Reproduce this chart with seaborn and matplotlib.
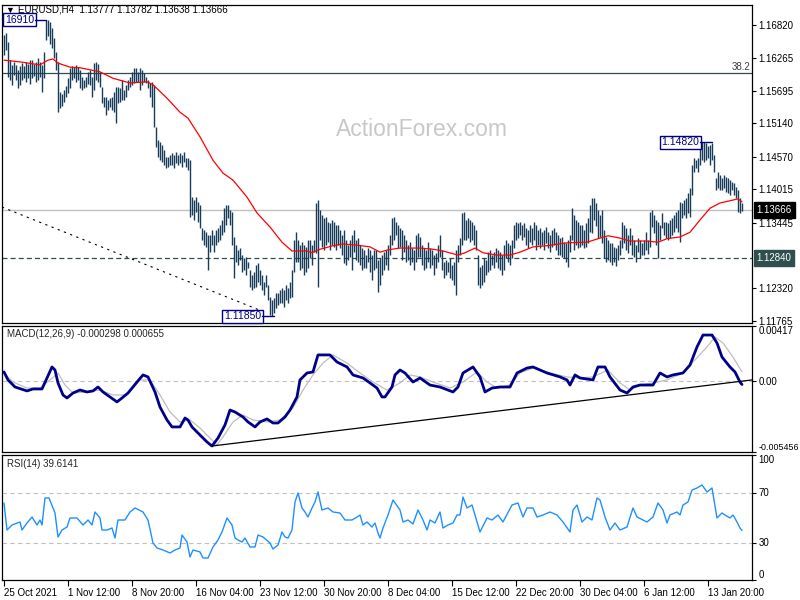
import matplotlib
matplotlib.use("Agg")
import matplotlib.pyplot as plt
import matplotlib.transforms as mtransforms
import pandas as pd
import seaborn as sns

# ---------------- data ----------------
title = "EURUSD,H4  1.13777 1.13782 1.13638 1.13666"

bar_high = [
    1.1665, 1.1668, 1.1653, 1.1622, 1.1614, 1.1619, 1.1614, 1.1605, 1.1612, 1.1617,
    1.1612, 1.1619, 1.1615, 1.1622, 1.1622, 1.1615, 1.1619, 1.1626, 1.1619, 1.1614,
    1.1636, 1.1691, 1.1691, 1.1687, 1.1677, 1.1660, 1.1636, 1.1619, 1.1568, 1.1564,
    1.1571, 1.1578, 1.1591, 1.1609, 1.1612, 1.1610, 1.1614, 1.1610, 1.1605, 1.1593,
    1.1588, 1.1593, 1.1602, 1.1605, 1.1593, 1.1617, 1.1619, 1.1615, 1.1602, 1.1576,
    1.1559, 1.1559, 1.1554, 1.1557, 1.1559, 1.1568, 1.1576, 1.1576, 1.1574, 1.1588,
    1.1571, 1.1580, 1.1588, 1.1593, 1.1602, 1.1609, 1.1609, 1.1602, 1.1609, 1.1605,
    1.1600, 1.1593, 1.1588, 1.1583, 1.1585, 1.1580, 1.1508, 1.1486, 1.1482, 1.1477,
    1.1469, 1.1457, 1.1457, 1.1460, 1.1463, 1.1460, 1.1465, 1.1460, 1.1463, 1.1460,
    1.1465, 1.1455, 1.1455, 1.1451, 1.1388, 1.1383, 1.1388, 1.1380, 1.1375, 1.1335,
    1.1332, 1.1328, 1.1323, 1.1323, 1.1332, 1.1323, 1.1332, 1.1335, 1.1340, 1.1349,
    1.1369, 1.1375, 1.1375, 1.1366, 1.1363, 1.1320, 1.1306, 1.1298, 1.1301, 1.1289,
    1.1284, 1.1286, 1.1277, 1.1264, 1.1255, 1.1260, 1.1272, 1.1276, 1.1264, 1.1255,
    1.1243, 1.1255, 1.1238, 1.1217, 1.1212, 1.1216, 1.1224, 1.1224, 1.1229, 1.1233,
    1.1229, 1.1238, 1.1233, 1.1243, 1.1264, 1.1315, 1.1328, 1.1315, 1.1306, 1.1311,
    1.1306, 1.1303, 1.1315, 1.1315, 1.1306, 1.1315, 1.1378, 1.1383, 1.1366, 1.1357,
    1.1352, 1.1354, 1.1346, 1.1344, 1.1349, 1.1346, 1.1340, 1.1340, 1.1332, 1.1323,
    1.1332, 1.1315, 1.1306, 1.1315, 1.1323, 1.1332, 1.1315, 1.1318, 1.1306, 1.1301,
    1.1298, 1.1289, 1.1301, 1.1298, 1.1289, 1.1298, 1.1298, 1.1281, 1.1284, 1.1289,
    1.1294, 1.1298, 1.1306, 1.1323, 1.1352, 1.1354, 1.1346, 1.1340, 1.1335, 1.1332,
    1.1323, 1.1315, 1.1306, 1.1311, 1.1301, 1.1298, 1.1323, 1.1327, 1.1320, 1.1306,
    1.1301, 1.1298, 1.1311, 1.1301, 1.1298, 1.1289, 1.1293, 1.1306, 1.1323, 1.1298,
    1.1277, 1.1281, 1.1277, 1.1284, 1.1272, 1.1277, 1.1298, 1.1306, 1.1318, 1.1361,
    1.1363, 1.1349, 1.1352, 1.1349, 1.1346, 1.1340, 1.1332, 1.1289, 1.1269, 1.1272,
    1.1284, 1.1281, 1.1294, 1.1298, 1.1289, 1.1294, 1.1301, 1.1298, 1.1294, 1.1289,
    1.1306, 1.1315, 1.1310, 1.1306, 1.1315, 1.1340, 1.1346, 1.1344, 1.1346, 1.1340,
    1.1344, 1.1335, 1.1332, 1.1340, 1.1335, 1.1346, 1.1340, 1.1332, 1.1335, 1.1328,
    1.1332, 1.1337, 1.1328, 1.1323, 1.1332, 1.1335, 1.1328, 1.1323, 1.1318, 1.1320,
    1.1311, 1.1310, 1.1315, 1.1323, 1.1369, 1.1357, 1.1349, 1.1346, 1.1340, 1.1340,
    1.1332, 1.1344, 1.1352, 1.1375, 1.1387, 1.1387, 1.1378, 1.1366, 1.1357, 1.1366,
    1.1332, 1.1320, 1.1315, 1.1310, 1.1310, 1.1303, 1.1301, 1.1306, 1.1315, 1.1346,
    1.1340, 1.1335, 1.1323, 1.1335, 1.1323, 1.1315, 1.1306, 1.1318, 1.1315, 1.1310,
    1.1315, 1.1328, 1.1315, 1.1363, 1.1366, 1.1357, 1.1349, 1.1346, 1.1340, 1.1361,
    1.1346, 1.1346, 1.1344, 1.1349, 1.1352, 1.1357, 1.1363, 1.1366, 1.1380, 1.1378,
    1.1383, 1.1387, 1.1395, 1.1404, 1.1443, 1.1455, 1.1451, 1.1455, 1.1482, 1.1482,
    1.1482, 1.1480, 1.1475, 1.1477, 1.1480, 1.1460, 1.1421, 1.1431, 1.1426, 1.1421,
    1.1426, 1.1422, 1.1421, 1.1417, 1.1414, 1.1412, 1.1405, 1.1400, 1.1387, 1.1378,
]
bar_low = [
    1.1631, 1.1639, 1.1593, 1.1588, 1.1580, 1.1597, 1.1588, 1.1574, 1.1580, 1.1588,
    1.1591, 1.1585, 1.1591, 1.1581, 1.1591, 1.1595, 1.1585, 1.1588, 1.1593, 1.1568,
    1.1591, 1.1656, 1.1663, 1.1650, 1.1643, 1.1626, 1.1605, 1.1533, 1.1540, 1.1544,
    1.1550, 1.1559, 1.1566, 1.1574, 1.1588, 1.1591, 1.1585, 1.1588, 1.1574, 1.1571,
    1.1574, 1.1576, 1.1581, 1.1580, 1.1559, 1.1571, 1.1588, 1.1585, 1.1576, 1.1549,
    1.1542, 1.1528, 1.1537, 1.1542, 1.1537, 1.1533, 1.1515, 1.1549, 1.1550, 1.1554,
    1.1554, 1.1559, 1.1571, 1.1576, 1.1580, 1.1583, 1.1585, 1.1585, 1.1571, 1.1580,
    1.1585, 1.1583, 1.1574, 1.1559, 1.1542, 1.1508, 1.1474, 1.1457, 1.1451, 1.1448,
    1.1443, 1.1438, 1.1440, 1.1443, 1.1443, 1.1438, 1.1446, 1.1443, 1.1446, 1.1440,
    1.1448, 1.1440, 1.1434, 1.1354, 1.1357, 1.1349, 1.1363, 1.1346, 1.1335, 1.1315,
    1.1306, 1.1303, 1.1264, 1.1294, 1.1306, 1.1294, 1.1306, 1.1311, 1.1315, 1.1323,
    1.1328, 1.1340, 1.1352, 1.1340, 1.1306, 1.1250, 1.1277, 1.1272, 1.1281, 1.1260,
    1.1264, 1.1255, 1.1267, 1.1235, 1.1229, 1.1233, 1.1235, 1.1243, 1.1238, 1.1229,
    1.1221, 1.1235, 1.1212, 1.1187, 1.1185, 1.1190, 1.1199, 1.1204, 1.1207, 1.1207,
    1.1200, 1.1212, 1.1207, 1.1216, 1.1217, 1.1260, 1.1277, 1.1277, 1.1264, 1.1267,
    1.1255, 1.1260, 1.1267, 1.1284, 1.1272, 1.1294, 1.1293, 1.1235, 1.1315, 1.1303,
    1.1298, 1.1306, 1.1311, 1.1298, 1.1306, 1.1303, 1.1298, 1.1306, 1.1301, 1.1289,
    1.1276, 1.1272, 1.1281, 1.1286, 1.1264, 1.1294, 1.1281, 1.1277, 1.1272, 1.1264,
    1.1267, 1.1267, 1.1277, 1.1260, 1.1246, 1.1264, 1.1267, 1.1226, 1.1238, 1.1255,
    1.1264, 1.1272, 1.1264, 1.1289, 1.1306, 1.1315, 1.1323, 1.1301, 1.1303, 1.1281,
    1.1294, 1.1277, 1.1281, 1.1272, 1.1277, 1.1264, 1.1277, 1.1286, 1.1286, 1.1272,
    1.1264, 1.1267, 1.1277, 1.1267, 1.1272, 1.1255, 1.1267, 1.1277, 1.1286, 1.1264,
    1.1250, 1.1255, 1.1260, 1.1250, 1.1246, 1.1238, 1.1221, 1.1277, 1.1289, 1.1306,
    1.1315, 1.1315, 1.1318, 1.1311, 1.1315, 1.1306, 1.1298, 1.1238, 1.1233, 1.1238,
    1.1243, 1.1255, 1.1260, 1.1264, 1.1272, 1.1267, 1.1277, 1.1267, 1.1264, 1.1255,
    1.1264, 1.1284, 1.1277, 1.1272, 1.1284, 1.1301, 1.1315, 1.1318, 1.1323, 1.1315,
    1.1320, 1.1306, 1.1301, 1.1311, 1.1306, 1.1315, 1.1298, 1.1306, 1.1301, 1.1306,
    1.1298, 1.1310, 1.1301, 1.1294, 1.1303, 1.1306, 1.1298, 1.1289, 1.1289, 1.1286,
    1.1284, 1.1277, 1.1269, 1.1294, 1.1315, 1.1298, 1.1306, 1.1301, 1.1303, 1.1306,
    1.1301, 1.1303, 1.1310, 1.1328, 1.1327, 1.1349, 1.1339, 1.1318, 1.1320, 1.1310,
    1.1284, 1.1277, 1.1281, 1.1277, 1.1272, 1.1277, 1.1270, 1.1281, 1.1289, 1.1301,
    1.1310, 1.1298, 1.1293, 1.1306, 1.1289, 1.1286, 1.1277, 1.1294, 1.1284, 1.1289,
    1.1289, 1.1298, 1.1291, 1.1303, 1.1337, 1.1327, 1.1306, 1.1284, 1.1315, 1.1335,
    1.1323, 1.1318, 1.1315, 1.1318, 1.1323, 1.1328, 1.1335, 1.1328, 1.1311, 1.1352,
    1.1357, 1.1352, 1.1361, 1.1354, 1.1392, 1.1431, 1.1438, 1.1431, 1.1443, 1.1451,
    1.1448, 1.1451, 1.1455, 1.1443, 1.1451, 1.1431, 1.1400, 1.1404, 1.1400, 1.1400,
    1.1404, 1.1397, 1.1395, 1.1392, 1.1400, 1.1392, 1.1387, 1.1363, 1.1361, 1.1364,
]

# moving average (red), sampled along the bars
ma_idx = [0, 8, 18, 22, 24.5, 27, 33, 38, 48, 54.5, 63, 71.5, 74.5, 81.5, 88, 92, 98,
          104.5, 109.5, 114.5, 121.5, 126.5, 133, 139, 144, 151.5, 154, 158, 164.5,
          169.5, 176.5, 183, 188, 192, 198, 208, 214.5, 219.5, 227, 230.5, 235.5, 239.5,
          246.5, 253, 258, 264.5, 271.5, 281.5, 291.5, 298, 302, 308, 313, 321.5, 327,
          331.5, 338, 343, 348, 353, 358, 364.5, 367, 369]
ma_val = [1.1622, 1.1619, 1.1614, 1.1622, 1.1624, 1.1617, 1.1610, 1.1609, 1.1602, 1.1591,
          1.1583, 1.1585, 1.1580, 1.1557, 1.1533, 1.1523, 1.1491, 1.1451, 1.1429, 1.1417,
          1.1388, 1.1361, 1.1337, 1.1311, 1.1296, 1.1296, 1.1293, 1.1299, 1.1305, 1.1308,
          1.1306, 1.1303, 1.1294, 1.1298, 1.1301, 1.1301, 1.1299, 1.1296, 1.1289, 1.1293,
          1.1301, 1.1293, 1.1289, 1.1289, 1.1294, 1.1303, 1.1305, 1.1310, 1.1311, 1.1318,
          1.1322, 1.1318, 1.1313, 1.1313, 1.1311, 1.1317, 1.1320, 1.1328, 1.1349, 1.1369,
          1.1378, 1.1383, 1.1385, 1.1380]

price_ticks = [1.16820, 1.16265, 1.15695, 1.15140, 1.14570, 1.14015, 1.13445, 1.12320, 1.11765]
last_price = 1.13666
support = 1.12840
fibo_382 = 1.1600
peak_hi, peak_lo, recent_hi = 1.16910, 1.11850, 1.14820
trend_idx = [-1, 130]
trend_val = [1.1371, 1.1192]

macd_idx = [0, 2, 5.5, 11.5, 14.5, 19, 21.5, 24, 25.5, 27,
            29.5, 31.5, 34.5, 38, 41.5, 44.5, 47, 49.5, 53, 56.5,
            59, 62, 66.5, 69.5, 72, 75.5, 78, 81.5, 84, 88,
            90.5, 92, 94, 98, 101.5, 104, 107, 110.5, 113, 115.5,
            119.5, 122, 125.5, 128, 131.5, 134.5, 137, 140.5, 143, 146.5,
            148, 151.5, 154.5, 157, 163, 166.5, 171.5, 174.5, 179.5, 183,
            186.5, 189, 190.5, 194, 195.5, 198, 200.5, 204.5, 208, 213,
            218, 224.5, 227, 229.5, 234.5, 238, 240.5, 244, 248, 253,
            256.5, 261.5, 264.5, 271.5, 278, 281.5, 283, 285.5, 288, 294.5,
            297, 300.5, 303, 308, 311.5, 314.5, 318, 324.5, 328, 331.5,
            334.5, 339.5, 343, 346.5, 349.5, 354, 356.5, 359, 363, 365.5,
            368, 369]
macd_val = [0.00066, 0.00005, -0.00049, -0.00079, -0.00064, -0.00064, 0.00020, 0.00104, 0.00081, -0.00018,
            -0.00110, -0.00133, -0.00095, -0.00072, -0.00087, -0.00079, -0.00049, -0.00087, -0.00125, -0.00163,
            -0.00133, -0.00095, -0.00011, 0.00043, 0.00028, -0.00087, -0.00202, -0.00301, -0.00354, -0.00354,
            -0.00286, -0.00301, -0.00354, -0.00416, -0.00469, -0.00500, -0.00439, -0.00339, -0.00225, -0.00240,
            -0.00278, -0.00316, -0.00354, -0.00316, -0.00293, -0.00324, -0.00324, -0.00278, -0.00225, -0.00125,
            0.00005, 0.00058, 0.00066, 0.00196, 0.00196, 0.00142, 0.00104, 0.00043, 0.00020, -0.00018,
            -0.00057, -0.00125, -0.00125, -0.00049, 0.00043, 0.00081, 0.00058, -0.00011, 0.00020, -0.00034,
            -0.00049, -0.00087, -0.00049, 0.00058, 0.00104, 0.00028, -0.00087, -0.00057, -0.00049, -0.00049,
            0.00058, 0.00096, 0.00104, 0.00058, 0.00028, 0.00005, -0.00034, 0.00043, 0.00020, 0.00005,
            0.00104, 0.00104, 0.00028, -0.00072, -0.00095, -0.00049, -0.00034, -0.00034, 0.00058, 0.00028,
            0.00043, 0.00058, 0.00119, 0.00257, 0.00348, 0.00348, 0.00287, 0.00180, 0.00104, 0.00066,
            -0.00011, -0.00030]
sig_idx = [0, 4.5, 11.5, 18, 23, 27, 30.5, 34.5, 41.5, 48,
           54.5, 61.5, 68, 73, 78, 83, 88, 93, 98, 103,
           106.5, 109.5, 114.5, 119.5, 124.5, 131.5, 138, 144.5, 149.5, 154.5,
           159.5, 164.5, 171.5, 178, 184.5, 191.5, 198, 203, 208, 214.5,
           223, 229.5, 236.5, 241.5, 246.5, 253, 258, 264.5, 273, 281.5,
           288, 294.5, 302, 308, 313, 318, 324.5, 331.5, 339.5, 344.5,
           351.5, 355.5, 359.5, 364.5, 369]
sig_val = [0.00058, -0.00011, -0.00057, -0.00057, 0.00005, 0.00058, -0.00034, -0.00095, -0.00087, -0.00072,
           -0.00110, -0.00110, 0.00005, 0.00005, -0.00110, -0.00240, -0.00316, -0.00301, -0.00362, -0.00439,
           -0.00492, -0.00431, -0.00316, -0.00263, -0.00301, -0.00316, -0.00301, -0.00209, -0.00072, 0.00043,
           0.00134, 0.00196, 0.00134, 0.00058, -0.00011, -0.00072, -0.00018, 0.00043, 0.00028, -0.00011,
           -0.00057, -0.00011, 0.00066, -0.00011, -0.00057, -0.00034, 0.00058, 0.00096, 0.00058, 0.00028,
           0.00020, 0.00028, 0.00081, -0.00018, -0.00072, -0.00034, -0.00018, 0.00005, 0.00058, 0.00142,
           0.00257, 0.00333, 0.00287, 0.00180, 0.00066]
macd_trend_idx = [104, 374]
macd_trend_val = [-0.00500, 0.00005]
macd_ticks = [0.00417, 0.0, -0.005456]
macd_labels = ["0.00417", "0.00", "-0.005456"]

rsi_idx = [0, 1.5, 4, 8, 9, 11.5, 14, 16.5, 18, 19,
           20.5, 22.5, 25.5, 27, 29, 31.5, 33, 36.5, 39.5, 42,
           44, 45.5, 48, 49, 51.5, 54, 55.5, 57, 60.5, 63,
           65.5, 69.5, 72, 74.5, 76.5, 79.5, 83, 85.5, 88, 89,
           91.5, 93, 94.5, 98, 99.5, 102, 104.5, 107, 109, 111.5,
           114, 115.5, 117, 119, 120.5, 123, 125.5, 127, 129.5, 133,
           134.5, 137, 139, 140.5, 142, 144, 145.5, 147, 149, 150.5,
           152, 154, 155.5, 157, 159, 162, 164.5, 168, 170.5, 174,
           176.5, 178, 179.5, 181.5, 184, 185.5, 187, 188, 189.5, 192,
           194.5, 198, 199.5, 202, 204.5, 207, 209.5, 211.5, 213, 215.5,
           218, 219.5, 222, 224.5, 226.5, 228, 229.5, 231.5, 234, 235.5,
           238, 241.5, 244, 247, 249.5, 254, 257, 259.5, 261.5, 264.5,
           266.5, 269.5, 273, 276.5, 279.5, 283, 284.5, 286.5, 289, 291.5,
           294, 296.5, 298, 300.5, 303, 305.5, 308, 311.5, 314.5, 316.5,
           319.5, 321.5, 324.5, 327, 329.5, 331.5, 333, 336.5, 338, 339.5,
           342, 344, 346.5, 349, 351.5, 354, 356.5, 359, 360.5, 363,
           364.5, 366.5, 368, 369]
rsi_val = [61.6, 40, 44, 46.4, 40, 45.6, 50.4, 44, 48, 44,
           65.6, 65.6, 53.6, 34.4, 40, 42.4, 49.6, 49.6, 44, 48,
           44, 54.4, 49.6, 40, 40, 41.6, 33.6, 48, 48, 54.4,
           57.6, 54.4, 48, 29.6, 25.6, 24, 21.6, 24, 25.6, 36,
           30.4, 18.4, 24, 22.4, 17.6, 17.6, 26.4, 32, 38.4, 49.6,
           44, 33.6, 32, 30.4, 33.6, 26.4, 26.4, 36, 34.4, 29.6,
           24.8, 28, 38.4, 34.4, 33.6, 40, 62.4, 69.6, 57.6, 54.4,
           50.4, 57.6, 62.4, 70.4, 56, 57.6, 54.4, 53.6, 48, 48,
           50.4, 52, 44, 46.4, 42.4, 45.6, 37.6, 33.6, 41.6, 52,
           64, 56, 46.4, 48, 44.8, 56, 48, 40, 48, 45.6,
           54.4, 41.6, 44, 45.6, 52, 52, 66.4, 57.6, 60, 52,
           38.4, 49.6, 48, 52, 46.4, 60, 61.6, 50.4, 57.6, 57.6,
           50.4, 52, 54.4, 52, 46.4, 38.4, 56, 60, 46.4, 50.4,
           48, 65.6, 64, 50.4, 40, 45.6, 40, 42.4, 57.6, 50.4,
           48, 46.4, 50.4, 61.6, 56, 45.6, 52, 54.4, 52, 60,
           62.4, 72, 73.6, 76, 70.4, 73.6, 49.6, 53.6, 52, 49.6,
           52, 46.4, 41.6, 39.6]
rsi_levels = [70, 30]
rsi_ticks = [100, 70, 30, 0]

date_idx = [0, 32, 64, 96, 128, 160, 192, 224, 256, 288, 320, 352]
date_labels = ["25 Oct 2021", "1 Nov 12:00", "8 Nov 20:00", "16 Nov 04:00", "23 Nov 12:00",
               "30 Nov 20:00", "8 Dec 04:00", "15 Dec 12:00", "22 Dec 20:00", "30 Dec 04:00",
               "6 Jan 12:00", "13 Jan 20:00"]

# ---------------- style ----------------
sns.set_style("white")
plt.rcParams['font.family'] = ['Liberation Sans', 'DejaVu Sans']

bar_c = '#173C5A'
navy = '#000080'
W, H = 800, 600
fig = plt.figure(figsize=(8, 6), dpi=100)


def panel(x0, y0, x1, y1):
    # pixel box -> figure fraction
    return fig.add_axes([x0 / W, 1 - y1 / H, (x1 - x0) / W, (y1 - y0) / H])


ax_p = panel(2, 5, 752, 323)
ax_m = panel(2, 326, 752, 452)
ax_r = panel(2, 455, 752, 580)

# ---------------- price panel ----------------
bars = pd.DataFrame({'high': bar_high, 'low': bar_low})
bars['i'] = range(len(bars))
ax_p.vlines(bars['i'], bars['low'], bars['high'], color=bar_c, lw=1.0, zorder=3)
sns.lineplot(x=ma_idx, y=ma_val, ax=ax_p, color='red', lw=0.9, zorder=4)

ax_p.axhline(fibo_382, color='#2F4F4F', lw=0.9, zorder=2)
ax_p.axhline(support, color='#2F4F4F', lw=0.9, ls=(0, (4, 2.5)), zorder=2)
ax_p.axhline(last_price, color='#C0C0C0', lw=1.0, zorder=1)
ax_p.plot(trend_idx, trend_val, color='black', lw=0.8, ls=(0, (2, 4)), zorder=2)

ax_p.text(0.56, 0.61, 'ActionForex.com', transform=ax_p.transAxes, fontsize=16.5,
          color='#C8C8C8', ha='center', va='center', zorder=0)

tr_p = mtransforms.blended_transform_factory(ax_p.transAxes, ax_p.transData)
ax_p.text(0.998, fibo_382 + 0.0001, '38.2', transform=tr_p, ha='right', va='bottom',
          fontsize=7, color='#404040')

box = dict(boxstyle='square,pad=0.15', fc='white', ec=navy, lw=1)
ax_p.text(15, peak_hi, '16910', ha='right', va='center', fontsize=7.5, color=navy, bbox=box, zorder=5)
ax_p.plot([15.5, 21], [peak_hi, peak_hi], color=navy, lw=1, zorder=5)
ax_p.text(128.5, peak_lo - 0.00005, '1.11850', ha='right', va='center', fontsize=7.5, color=navy,
          bbox=box, zorder=5)
ax_p.plot([129, 135], [peak_lo, peak_lo], color=navy, lw=1, zorder=5)
ax_p.text(347.5, recent_hi, '1.14820', ha='right', va='center', fontsize=7.5, color=navy,
          bbox=box, zorder=5)
ax_p.plot([348, 354], [recent_hi, recent_hi], color=navy, lw=1, zorder=5)

ax_p.set_ylim(1.11730, 1.17162)
ax_p.set_yticks(price_ticks)
ax_p.set_yticklabels([f'{v:.5f}' for v in price_ticks])

ax_p.text(1.006, last_price, f'{last_price:.5f}', transform=tr_p, color='white', fontsize=7,
          ha='left', va='center', clip_on=False,
          bbox=dict(boxstyle='square,pad=0.3', fc='black', ec='black'))
ax_p.text(1.006, support, f'{support:.5f}', transform=tr_p, color='white', fontsize=7,
          ha='left', va='center', clip_on=False,
          bbox=dict(boxstyle='square,pad=0.3', fc='#2F4F4F', ec='#2F4F4F'))

# ---------------- MACD panel ----------------
ax_m.axhline(0, color='#C0C0C0', lw=0.8, ls=(0, (4, 3)))
sns.lineplot(x=sig_idx, y=sig_val, ax=ax_m, color='#BEBEBE', lw=0.9)
sns.lineplot(x=macd_idx, y=macd_val, ax=ax_m, color='#00008B', lw=2.0)
sns.lineplot(x=macd_trend_idx, y=macd_trend_val, ax=ax_m, color='black', lw=0.9)
ax_m.set_ylim(-0.005456, 0.00417)
ax_m.set_yticks(macd_ticks)
ax_m.set_yticklabels(macd_labels)

# ---------------- RSI panel ----------------
for lvl in rsi_levels:
    ax_r.axhline(lvl, color='#C0C0C0', lw=0.8, ls=(0, (4, 3)))
sns.lineplot(x=rsi_idx, y=rsi_val, ax=ax_r, color='#1E90FF', lw=1.0)
ax_r.set_ylim(0, 100)
ax_r.set_yticks(rsi_ticks)
ax_r.set_yticklabels([str(v) for v in rsi_ticks])

# ---------------- common axis styling ----------------
for ax in (ax_p, ax_m, ax_r):
    ax.set_xlim(-1, 374)
    for s in ax.spines.values():
        s.set_visible(True)
        s.set_color('black')
        s.set_linewidth(0.9)
    ax.yaxis.tick_right()
    ax.tick_params(axis='y', direction='out', length=3, width=0.8, pad=1.5,
                   labelsize=7, colors='black', right=True, left=False)
    ax.tick_params(axis='x', bottom=False, labelbottom=False)
    ax.set_xlabel('')
    ax.set_ylabel('')

ax_r.set_xticks(date_idx)
ax_r.set_xticklabels(date_labels, ha='left')
ax_r.tick_params(axis='x', bottom=True, labelbottom=True, direction='out', length=4,
                 width=0.8, pad=2, labelsize=7, colors='black')

# top / bottom labels of the indicator scales sit inside the window
mt = ax_m.yaxis.get_major_ticks()
mt[0].label2.set_va('top')
mt[2].label2.set_va('bottom')
mt[2].label2.set_fontsize(6.4)
rt = ax_r.yaxis.get_major_ticks()
rt[0].label2.set_va('top')
rt[3].label2.set_va('bottom')

# window titles
fig.text(5 / W, 1 - 10 / H, '\u25bc', fontsize=6.5, va='center', color='black')
fig.text(18 / W, 1 - 10 / H, title, fontsize=7, va='center', color='black')
fig.text(7 / W, 1 - 334 / H, 'MACD(12,26,9) -0.000298 0.000655', fontsize=7, va='center')
fig.text(7 / W, 1 - 464 / H, 'RSI(14) 39.6141', fontsize=7, va='center')

fig.savefig('out.png', dpi=100, facecolor='white')
